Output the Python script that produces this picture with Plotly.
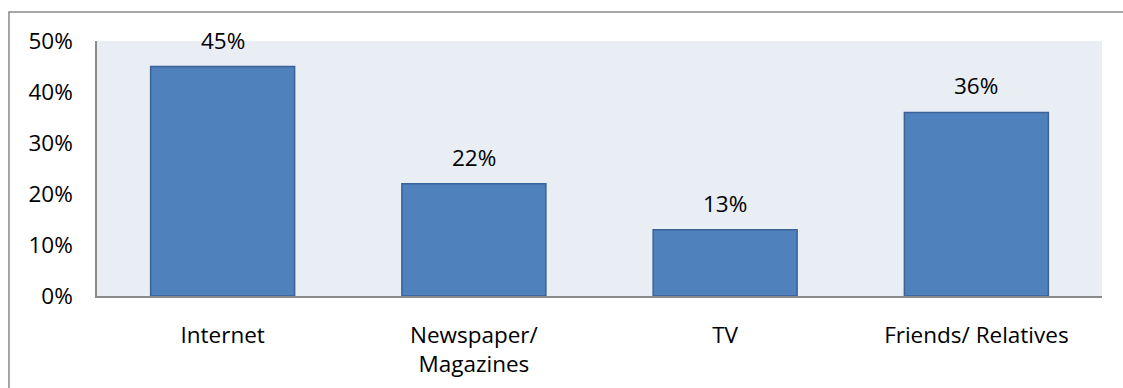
import plotly.graph_objects as go

# Share of respondents by information source
categories = ["Internet", "Newspaper/<br>Magazines", "TV", "Friends/ Relatives"]
shares = [45, 22, 13, 36]
y_ticks = [0, 10, 20, 30, 40, 50]
y_tick_labels = [f"{v}%" for v in y_ticks]

FONT = "Open Sans, Calibri, sans-serif"
FONT_SIZE = 22.5
AXIS_GREY = "#8A8A8A"

fig = go.Figure(
    go.Bar(
        x=categories,
        y=shares,
        marker=dict(color="#4F81BD", line=dict(color="#3A6296", width=1.5)),
        hoverinfo="x+y",
    )
)

# value labels above each bar
for cat, val in zip(categories, shares):
    fig.add_annotation(
        x=cat, y=val, text=f"{val}%", showarrow=False,
        yanchor="bottom", yshift=9,
        font=dict(family=FONT, size=FONT_SIZE, color="#000000"),
    )

# outer chart frame (left and top edges fall inside the page)
fig.add_shape(
    type="rect", xref="paper", yref="paper",
    x0=-0.0876, x1=1.03, y0=-0.40, y1=1.1137,
    line=dict(color=AXIS_GREY, width=1.5), fillcolor="rgba(0,0,0,0)",
    layer="below",
)

fig.update_layout(
    width=1123, height=388,
    margin=dict(l=97, r=21, t=41, b=92),
    paper_bgcolor="#FFFFFF",
    plot_bgcolor="#E9EDF4",
    bargap=0.427,
    showlegend=False,
    font=dict(family=FONT, size=FONT_SIZE, color="#000000"),
)
fig.update_xaxes(
    showline=True, linecolor=AXIS_GREY, linewidth=1.5,
    showgrid=False, ticks="", tickfont=dict(size=FONT_SIZE),
    ticklabelstandoff=18, automargin=False,
)
fig.update_yaxes(
    range=[0, 50], tickvals=y_ticks, ticktext=y_tick_labels,
    showline=True, linecolor=AXIS_GREY, linewidth=1.5,
    showgrid=False, zeroline=False, ticks="", tickfont=dict(size=FONT_SIZE),
    ticklabelstandoff=18, automargin=False,
)

fig.write_html("out.html")
